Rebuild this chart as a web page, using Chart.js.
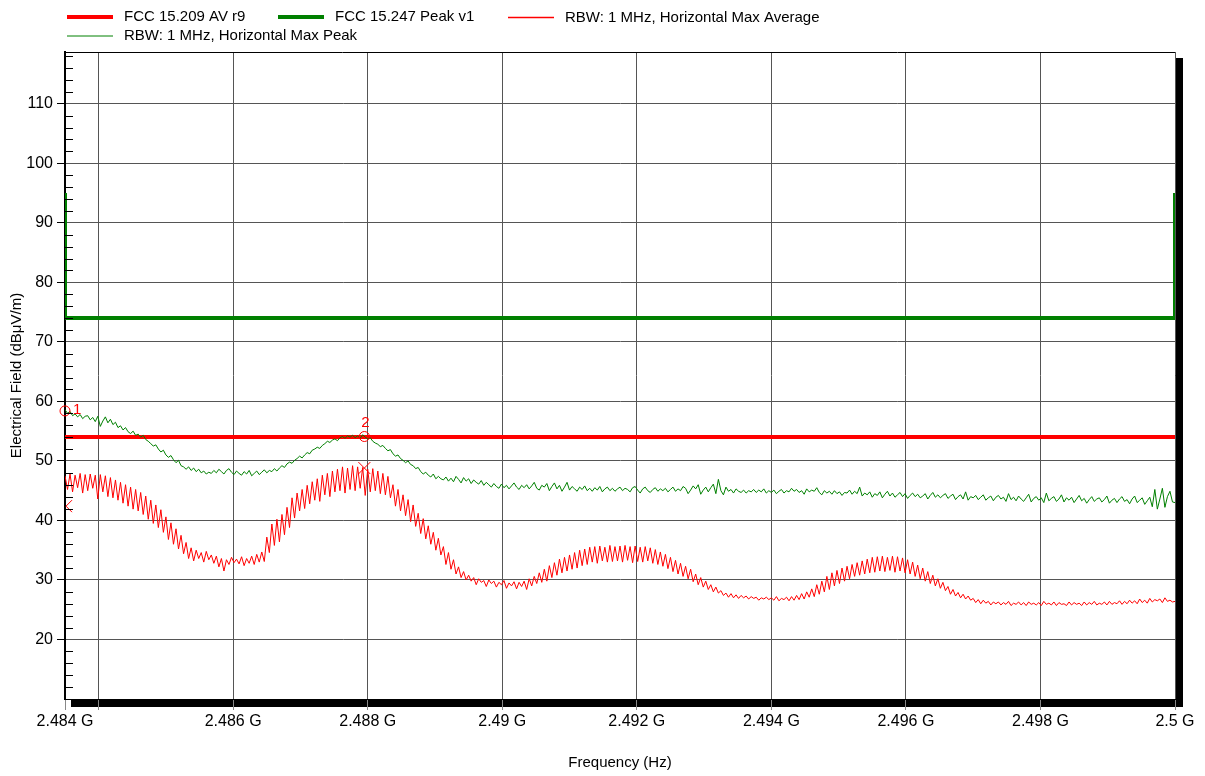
<!DOCTYPE html>
<html>
<head>
<meta charset="utf-8">
<title>Restricted band 2483.5 - 2500 MHz</title>
<script src="https://cdn.jsdelivr.net/npm/chart.js@4/dist/chart.umd.min.js"></script>
<style>
  body { margin: 0; background: #fff; }
  #wrap { position: relative; width: 1205px; height: 776px; }
</style>
</head>
<body>
<div id="wrap"><canvas id="grafica"></canvas></div>
<script>
// Barrido en GHz
const freqStart = 2.4835;
const freqStop = 2.5;

const xTicks = [2.4835, 2.484, 2.486, 2.488, 2.49, 2.492, 2.494, 2.496, 2.498, 2.5];
const xTickLabels = ["2.484 G", "", "2.486 G", "2.488 G", "2.49 G", "2.492 G", "2.494 G", "2.496 G", "2.498 G", "2.5 G"];
const yTicks = [20, 30, 40, 50, 60, 70, 80, 90, 100, 110];

// Limites
const limitAvFreq = [2.4835, 2.5];
const limitAv = [54, 54];
const limitPkFreq = [2.4835, 2.4835, 2.5, 2.5];
const limitPk = [95, 74, 74, 95];

// RBW 1 MHz, horizontal, max average (dBuV/m)
const maxAverage = [
  47.5, 45.2, 47.8, 44.8, 47.6, 45.5, 47.9, 44.6, 47.7, 45.0,
  47.8, 45.4, 47.6, 43.6, 47.7, 44.8, 47.5, 44.0, 47.2, 43.8,
  46.8, 43.4, 46.4, 42.9, 46.0, 42.4, 45.6, 41.9, 45.2, 41.6,
  44.7, 41.0, 44.1, 40.2, 43.4, 39.5, 42.6, 38.8, 41.8, 38.0,
  40.6, 36.8, 39.6, 36.0, 38.6, 35.2, 37.5, 34.4, 36.3, 33.6,
  35.4, 33.2, 35.0, 33.6, 34.6, 33.0, 34.8, 33.4, 34.2, 32.8,
  34.0, 32.2, 33.6, 31.5, 33.4, 32.6, 33.8, 32.9, 33.5, 32.7,
  33.9, 32.4, 33.6, 32.8, 34.0, 32.6, 34.3, 33.0, 34.7, 33.1,
  37.2, 34.6, 39.4, 35.8, 40.2, 36.4, 41.0, 37.6, 42.2, 38.8,
  43.8, 40.4, 44.6, 41.6, 45.2, 42.0, 45.9, 42.8, 46.5, 43.4,
  47.0, 43.2, 47.6, 44.3, 47.9, 44.0, 48.3, 44.8, 48.6, 45.0,
  49.0, 44.6, 48.8, 45.2, 49.2, 45.0, 49.0, 45.4, 48.9, 44.2,
  48.6, 44.8, 48.7, 45.0, 48.3, 44.5, 47.9, 44.3, 47.4, 43.8,
  46.0, 42.4, 45.2, 41.6, 44.3, 40.8, 43.5, 39.8, 42.6, 39.0,
  41.2, 37.8, 40.3, 36.9, 39.1, 36.0, 38.0, 35.0, 37.0, 34.2,
  35.6, 32.6, 34.6, 31.8, 33.4, 31.0, 32.2, 30.4, 31.4, 30.0,
  30.8, 29.8, 30.4, 29.2, 30.2, 29.6, 29.9, 28.9, 30.0, 29.4,
  29.8, 28.8, 29.6, 29.2, 29.9, 28.6, 29.5, 29.0, 29.7, 28.5,
  29.6, 28.9, 29.8, 28.4, 30.2, 29.0, 30.6, 29.4, 31.2, 29.6,
  31.8, 29.8, 32.4, 30.4, 32.9, 30.8, 33.5, 31.2, 33.8, 31.5,
  34.2, 31.8, 34.6, 32.0, 35.0, 32.4, 35.2, 32.6, 35.5, 33.0,
  35.6, 32.8, 35.7, 33.2, 35.5, 33.0, 35.8, 33.1, 35.6, 33.2,
  35.7, 33.0, 35.8, 33.3, 35.6, 32.9, 35.7, 33.1, 35.5, 33.0,
  35.6, 33.2, 35.4, 32.8, 35.1, 32.6, 34.7, 32.3, 34.3, 31.9,
  33.8, 31.4, 33.3, 31.0, 32.8, 30.6, 32.3, 30.2, 31.8, 29.7,
  31.0, 29.2, 30.4, 28.8, 29.8, 28.4, 29.2, 28.0, 28.8, 27.8,
  28.2, 27.4, 27.8, 27.1, 27.7, 27.0, 27.5, 26.9, 27.4, 27.0,
  27.3, 26.8, 27.2, 26.9, 27.1, 26.6, 27.0, 26.8, 27.1, 26.7,
  27.0, 26.6, 27.2, 26.5, 26.9, 26.7, 27.1, 26.5, 27.2, 26.6,
  27.4, 26.7, 27.7, 26.8, 28.0, 27.1, 28.5, 27.2, 29.2, 27.6,
  29.8, 28.0, 30.6, 28.4, 31.2, 29.0, 31.6, 29.4, 32.0, 29.8,
  32.3, 30.2, 32.6, 30.6, 32.9, 30.8, 33.2, 31.0, 33.5, 31.2,
  33.8, 31.3, 33.9, 31.5, 34.0, 31.4, 33.8, 31.6, 34.0, 31.3,
  33.9, 31.5, 33.7, 31.2, 33.4, 31.0, 33.0, 30.6, 32.5, 30.2,
  32.0, 29.8, 31.4, 29.4, 30.8, 29.0, 30.2, 28.6, 29.6, 28.2,
  28.9, 27.6, 28.4, 27.3, 27.9, 27.0, 27.6, 26.8, 27.3, 26.6,
  26.9, 26.2, 26.7, 26.0, 26.6, 26.1, 26.4, 25.8, 26.3, 26.0,
  26.3, 25.8, 26.2, 25.9, 26.4, 25.7, 26.1, 25.9, 26.3, 25.8,
  26.2, 25.7, 26.3, 25.9, 26.1, 25.8, 26.2, 25.7, 26.4, 25.9,
  26.1, 25.8, 26.3, 25.7, 26.2, 25.9, 26.0, 25.7, 26.3, 25.8,
  26.2, 25.9, 26.1, 25.7, 26.3, 25.8, 26.2, 25.9, 26.4, 25.8,
  26.1, 25.9, 26.3, 25.8, 26.4, 25.9, 26.2, 26.0, 26.5, 25.9,
  26.4, 26.0, 26.6, 26.1, 26.5, 26.0, 26.8, 26.2, 26.6, 26.1,
  26.9, 26.3, 26.7, 26.5, 26.8, 26.2, 27.0, 26.4, 26.6, 26.3,
  26.4
];

// RBW 1 MHz, horizontal, max peak (dBuV/m)
const maxPeak = [
  58.6, 58.0, 58.3, 57.6, 57.9, 57.4, 57.8, 57.1, 57.5, 57.6,
  56.9, 57.3, 56.6, 57.5, 55.8, 56.7, 57.4, 56.4, 57.0, 56.1,
  56.5, 55.6, 55.9, 55.2, 55.6, 54.9, 54.6, 55.0, 54.3, 54.5,
  54.0, 54.3, 53.6, 53.3, 52.9, 52.5, 52.7, 52.0, 51.5, 51.8,
  51.0, 50.6, 50.9, 50.2, 49.7, 50.1, 49.2, 49.0, 48.6, 49.0,
  48.4, 48.8, 48.2, 48.6, 48.0, 48.3, 47.8, 48.1, 47.9, 48.4,
  48.0, 48.6, 48.2, 47.8, 48.4, 48.7, 48.1, 47.7, 48.3, 47.9,
  47.6, 48.2, 47.8, 48.4, 47.5, 47.9, 48.3, 47.7, 48.1, 48.5,
  48.0, 48.4, 48.2, 48.7, 48.3, 48.8, 49.2, 48.9, 49.5, 49.8,
  49.6, 50.1, 50.4, 50.8, 50.5, 51.0, 51.4, 51.2, 51.8, 52.0,
  52.3, 52.1, 52.6, 52.9, 53.3, 53.1, 53.5, 53.7, 53.4, 53.9,
  54.1, 53.8, 54.2, 54.0, 54.3, 53.9, 54.2, 53.8, 54.4, 54.0,
  53.7, 53.9, 53.3, 53.0, 52.8, 52.4, 52.6, 52.1, 51.7, 51.9,
  51.2, 50.8, 51.0, 50.4, 50.1, 49.7, 50.0, 49.4, 49.2, 48.7,
  48.9, 48.2, 47.8, 48.1, 47.6, 47.3, 47.8, 47.0, 47.4, 47.0,
  46.8, 47.3, 46.6, 47.1, 46.5, 47.4, 46.9, 46.3, 47.2, 46.6,
  47.0, 46.2, 46.8, 46.4, 46.1, 46.7, 45.9, 46.4, 46.0, 45.6,
  46.2, 45.7, 45.4, 46.1, 45.5, 45.9, 45.3, 45.8, 46.3, 45.6,
  45.2, 45.9, 45.5, 46.0, 45.3, 45.8, 46.4, 45.4, 45.1, 45.9,
  45.6, 46.2, 45.0, 45.7, 46.3, 45.3, 45.9, 44.9, 45.6, 46.4,
  45.1, 45.7, 45.3, 44.9, 45.6, 45.2, 45.8, 45.0, 45.4, 44.9,
  45.5, 45.1, 45.7, 44.8, 45.3, 45.6, 45.0, 45.4, 44.9, 45.3,
  45.6, 45.0, 45.4, 45.2, 44.8, 45.5, 45.7, 45.1, 44.6, 45.3,
  45.6, 45.0, 44.7, 45.2, 45.5, 44.9, 45.3, 45.0, 45.4, 44.8,
  45.2, 45.6, 44.9, 45.3, 45.0, 45.7, 45.4, 44.5, 45.1, 45.8,
  45.3, 46.0, 44.4, 45.1, 45.6, 44.8, 45.5, 46.1, 44.5, 46.9,
  45.0, 44.3, 45.6, 44.9, 45.2, 44.6, 45.3, 44.9, 44.7, 45.1,
  44.6, 45.0, 44.8, 45.2, 44.7, 45.1, 44.8, 45.3, 44.6, 45.0,
  44.7, 45.1, 44.5, 44.9, 45.2, 44.6, 45.0, 44.8, 45.4, 44.9,
  45.2, 44.7, 45.0, 44.4, 45.3, 44.8, 45.1, 44.9, 45.5, 44.7,
  44.3, 45.0, 44.6, 44.9, 44.4, 45.0, 44.5, 44.8, 44.2, 44.7,
  44.6, 45.1, 44.4, 44.9, 44.5, 45.6, 44.1, 44.6, 44.3, 44.8,
  43.9, 44.5, 44.2, 44.8, 43.8, 44.4, 44.9, 44.1, 44.6, 43.9,
  44.3, 44.7, 44.0, 44.5, 43.7, 44.2, 44.6, 44.0, 44.4, 43.8,
  44.1, 44.5, 43.6, 44.2, 44.7, 43.9, 44.3, 43.8, 44.2, 44.5,
  43.7, 44.1, 44.4, 43.5, 44.0, 44.3, 43.6, 44.8, 43.4, 44.0,
  43.8, 44.2, 43.5, 43.9, 44.3, 43.4, 43.8, 44.1, 43.3, 43.9,
  44.2, 43.6, 43.9, 43.2, 44.5, 43.5, 43.9, 43.3, 44.1, 43.6,
  43.2, 43.8, 44.4, 43.1, 43.7, 44.0, 43.4, 43.8, 43.0, 44.6,
  43.3, 43.7, 44.0, 43.2, 43.6, 44.3, 43.1, 43.8, 43.4, 43.9,
  43.0, 43.6, 44.2, 43.3, 43.7, 42.9, 43.5, 44.0, 43.2, 43.6,
  43.8, 43.1, 43.5, 44.1, 42.9, 43.4, 43.7, 43.0, 43.6, 44.0,
  43.2, 43.5, 42.8, 43.6, 44.1, 43.0, 43.4, 43.8, 42.7, 43.3,
  43.9, 42.3, 45.2, 41.9, 43.6, 45.4, 42.2, 44.0, 44.9, 43.1,
  43.0
];

// Marcadores
const markerNames = ["1", "2"];
const markerFreq = [2.4835, 2.48795];
const markerPeak = [58.4, 54.1];
const markerAvg = [42.4, 48.8];

const ROJO = "#ff0000";
const VERDE = "#008000";

function toPoints(values) {
  const step = (freqStop - freqStart) / (values.length - 1);
  return values.map((v, i) => ({ x: freqStart + i * step, y: v }));
}
function pairPoints(xs, ys) {
  return xs.map((x, i) => ({ x: x, y: ys[i] }));
}

// Sombra y fondo del area de trazado
const plotFrame = {
  id: "plotFrame",
  beforeDraw(chart) {
    const { ctx, chartArea: a } = chart;
    ctx.save();
    ctx.fillStyle = "#000";
    ctx.fillRect(a.left + 6, a.top + 6, a.right - a.left + 2, a.bottom - a.top + 2);
    ctx.fillStyle = "#fff";
    ctx.fillRect(a.left, a.top, a.right - a.left, a.bottom - a.top);
    ctx.restore();
  },
  afterDraw(chart) {
    const { ctx, chartArea: a } = chart;
    const y = chart.scales.y;
    ctx.save();
    ctx.strokeStyle = "#000";
    ctx.lineWidth = 1;
    ctx.beginPath();
    ctx.moveTo(a.left, a.top + 0.5);
    ctx.lineTo(a.right, a.top + 0.5);
    // ticks menores cada 2 dB
    for (let v = 12; v < y.max; v += 2) {
      if (v % 10 === 0) continue;
      const py = Math.round(y.getPixelForValue(v)) + 0.5;
      ctx.moveTo(a.left, py);
      ctx.lineTo(a.left + 8, py);
    }
    ctx.stroke();
    ctx.restore();
  }
};

const markers = {
  id: "markers",
  afterDatasetsDraw(chart) {
    const { ctx } = chart;
    const xs = chart.scales.x, ys = chart.scales.y;
    const labelPos = [{ dx: 8, dy: -1, align: "left" }, { dx: 1, dy: -14, align: "center" }];
    ctx.save();
    ctx.strokeStyle = ROJO;
    ctx.fillStyle = ROJO;
    ctx.lineWidth = 1;
    ctx.font = "15px 'Liberation Sans', Arial, sans-serif";
    ctx.textBaseline = "middle";
    markerNames.forEach((name, i) => {
      const px = xs.getPixelForValue(markerFreq[i]);
      const py = ys.getPixelForValue(markerPeak[i]);
      ctx.beginPath();
      ctx.arc(px, py, 5, 0, Math.PI * 2);
      ctx.stroke();
      ctx.textAlign = labelPos[i].align;
      ctx.fillText(name, px + labelPos[i].dx, py + labelPos[i].dy);
      const ay = ys.getPixelForValue(markerAvg[i]);
      ctx.beginPath();
      if (i === 0) {
        ctx.moveTo(px + 7, ay - 6);
        ctx.lineTo(px + 1, ay);
        ctx.lineTo(px + 7, ay + 6);
      } else {
        ctx.moveTo(px - 6, ay - 6);
        ctx.lineTo(px + 6, ay + 6);
        ctx.moveTo(px + 6, ay - 6);
        ctx.lineTo(px - 6, ay + 6);
      }
      ctx.stroke();
    });
    ctx.restore();
  }
};

const legendItems = [
  { text: "FCC 15.209 AV r9", color: ROJO, width: 4, x: 67, y: 17 },
  { text: "FCC 15.247 Peak v1", color: VERDE, width: 4, x: 278, y: 17 },
  { text: "RBW: 1 MHz, Horizontal Max Average", color: ROJO, width: 1.5, x: 508, y: 17.5 },
  { text: "RBW: 1 MHz, Horizontal Max Peak", color: VERDE, width: 1, x: 67, y: 36 }
];

const leyenda = {
  id: "leyenda",
  afterDraw(chart) {
    const { ctx } = chart;
    ctx.save();
    ctx.font = "15px 'Liberation Sans', Arial, sans-serif";
    ctx.textBaseline = "middle";
    ctx.textAlign = "left";
    for (const item of legendItems) {
      ctx.strokeStyle = item.color;
      ctx.lineWidth = item.width;
      ctx.beginPath();
      ctx.moveTo(item.x, item.y);
      ctx.lineTo(item.x + 46, item.y);
      ctx.stroke();
      ctx.fillStyle = "#000";
      ctx.fillText(item.text, item.x + 57, Math.round(item.y));
    }
    ctx.restore();
  }
};

const grafica = document.getElementById("grafica").getContext("2d");

new Chart(grafica, {
  type: "line",
  data: {
    datasets: [
      {
        label: "RBW: 1 MHz, Horizontal Max Peak",
        data: toPoints(maxPeak),
        borderColor: VERDE,
        borderWidth: 1,
        pointRadius: 0,
        order: 0
      },
      {
        label: "RBW: 1 MHz, Horizontal Max Average",
        data: toPoints(maxAverage),
        borderColor: ROJO,
        borderWidth: 1,
        pointRadius: 0,
        order: 1
      },
      {
        label: "FCC 15.209 AV r9",
        data: pairPoints(limitAvFreq, limitAv),
        borderColor: ROJO,
        borderWidth: 4,
        pointRadius: 0,
        clip: 0,
        order: 2
      },
      {
        label: "FCC 15.247 Peak v1",
        data: pairPoints(limitPkFreq, limitPk),
        borderColor: VERDE,
        borderWidth: 4,
        pointRadius: 0,
        clip: 0,
        order: 3
      }
    ]
  },
  options: {
    responsive: true,
    maintainAspectRatio: false,
    animation: false,
    layout: { padding: { top: 52, right: 30, bottom: 0, left: 0 } },
    plugins: {
      legend: { display: false },
      tooltip: { enabled: false }
    },
    scales: {
      x: {
        type: "linear",
        min: freqStart,
        max: freqStop,
        afterBuildTicks: (scale) => {
          scale.ticks = xTicks.map((v) => ({ value: v }));
        },
        afterFit: (scale) => {
          scale.height = 77;
        },
        ticks: {
          autoSkip: false,
          maxRotation: 0,
          padding: 2,
          color: "#000",
          font: { family: "'Liberation Sans', Arial, sans-serif", size: 16 },
          callback: (value, index) => xTickLabels[index]
        },
        grid: {
          color: "#555",
          lineWidth: 1,
          tickLength: 11,
          tickColor: "#888"
        },
        border: { color: "#000", width: 1 },
        title: {
          display: true,
          text: "Frequency (Hz)",
          color: "#000",
          font: { family: "'Liberation Sans', Arial, sans-serif", size: 15 },
          padding: { top: 4, bottom: 4 }
        }
      },
      y: {
        min: 10,
        max: 118.7,
        afterBuildTicks: (scale) => {
          scale.ticks = yTicks.map((v) => ({ value: v }));
        },
        afterFit: (scale) => {
          scale.width = 65;
        },
        ticks: {
          padding: 4,
          color: "#000",
          font: { family: "'Liberation Sans', Arial, sans-serif", size: 16 },
          callback: (value) => String(value)
        },
        grid: {
          color: "#555",
          lineWidth: 1,
          tickLength: 8,
          tickColor: "#000"
        },
        border: { color: "#000", width: 2 },
        title: {
          display: true,
          text: "Electrical Field (dBμV/m)",
          color: "#000",
          font: { family: "'Liberation Sans', Arial, sans-serif", size: 15 },
          padding: { top: 8, bottom: 4 }
        }
      }
    }
  },
  plugins: [plotFrame, markers, leyenda]
});
</script>
</body>
</html>
